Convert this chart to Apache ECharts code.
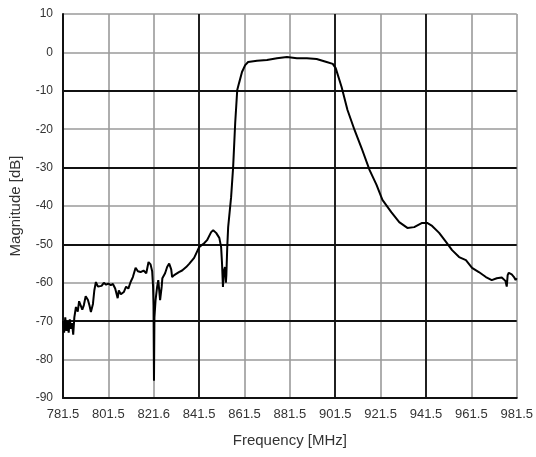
<!DOCTYPE html>
<html>
<head>
<meta charset="utf-8">
<script src="https://cdn.jsdelivr.net/npm/echarts@6/dist/echarts.min.js"></script>
<style>
html,body{margin:0;padding:0;background:#fff;}
#chart{width:536px;height:457px;}
</style>
</head>
<body>
<div id="chart"></div>
<script>
const xTickLabels = ['781.5','801.5','821.6','841.5','861.5','881.5','901.5','921.5','941.5','961.5','981.5'];

const freq = [
  781.5, 782.0, 782.5, 783.0, 783.5, 784.0, 784.5, 785.0, 785.5, 786.0, 786.5,
  787.2, 788.0, 788.6, 789.4, 790.0, 790.7, 791.5, 792.5, 793.2, 793.8, 794.7,
  795.3, 796.0, 796.9, 797.5, 798.5, 799.5, 800.5, 801.5, 802.6, 803.5, 804.5,
  805.6, 806.1, 807.0, 808.3, 809.3, 810.3, 811.3, 812.3, 813.5, 814.5, 815.7,
  817.0, 818.2, 819.2, 820.1, 820.8, 821.2, 821.4, 821.6, 821.8, 822.3, 823.0,
  823.5, 824.3, 825.0, 825.3, 826.5, 827.4, 828.3, 829.2, 829.6, 830.5, 831.3,
  832.6, 834.0, 835.8, 837.2, 839.3, 841.5, 843.7, 845.0, 846.8, 847.7, 849.0,
  849.5, 850.4, 851.2, 851.6, 852.0, 852.4, 852.9, 853.3, 853.5, 853.9, 854.3,
  855.6, 856.5, 857.4, 858.3, 859.1, 860.4, 861.8, 863.1, 867.0, 871.4, 875.8,
  880.2, 884.6, 889.0, 893.3, 897.7, 900.4, 901.7, 904.3, 906.9, 910.0, 913.1,
  916.6, 919.7, 922.3, 926.2, 929.7, 933.3, 936.3, 939.8, 942.0, 944.2, 947.3,
  950.4, 953.0, 956.1, 959.1, 961.8, 964.8, 967.9, 970.5, 972.7, 974.9, 976.5,
  977.1, 977.5, 978.0, 979.3, 980.3, 981.0, 981.5
];

const magnitude = [
  -70, -73, -69, -72.5, -70, -73, -69.5, -72, -70.5, -73.5, -69,
  -66.3, -67.5, -64.8, -65, -67, -65.8, -63.5, -64.5, -66, -67.6, -65.5,
  -62, -59.8, -61, -60.5, -60.8, -60, -60.5, -60.2, -60.6, -60.3, -61.5,
  -64, -62, -63, -62.4, -61, -61.5, -59.8, -58.5, -56.1, -57, -57.2,
  -56.8, -57.5, -54.6, -55.2, -57, -61, -66, -85.5, -69, -64.5, -61,
  -59.3, -64.5, -61, -58.8, -57.5, -55.9, -55, -56.5, -58.5, -58, -57.5,
  -57.2, -56.8, -55.9, -55, -53.5, -50.7, -49.7, -48.9, -46.8, -46.3, -47,
  -46.5, -48.3, -50.7, -55, -61.1, -57, -55.9, -60, -58, -50.7, -45.5,
  -37.7, -29.8, -18.4, -9.8, -8, -5.1, -3.3, -2.5, -2.2, -2.0, -1.5,
  -1.2, -1.5, -1.5, -1.7, -2.5, -3.0, -4.1, -9, -15, -20.2, -24.9,
  -30.6, -34.5, -38.4, -41.6, -44.2, -45.7, -45.5, -44.4, -44.4, -45.2, -47,
  -49.4, -51.5, -53.3, -54.1, -56.1, -57.2, -58.5, -59.3, -58.8, -58.6, -59.5,
  -61, -58, -57.4, -57.8, -58.5, -59.3, -58.8
];

// grid lines that are drawn darker in the original
const darkGridX = [841.5, 901.5, 941.5];
const darkGridY = [-10, -30, -50, -70];

const seriesData = freq.map((f, i) => [f, magnitude[i]]);

const DARK = '#111';
const LIGHT = '#9a9a9a';

const darkLines = darkGridX.map(v => ({xAxis: v})).concat(darkGridY.map(v => ({yAxis: v})));

const chart = echarts.init(document.getElementById('chart'), null, {renderer: 'canvas'});
chart.setOption({
  animation: false,
  backgroundColor: '#fff',
  grid: {left: 62, right: 18, top: 14, bottom: 59, containLabel: false},
  xAxis: {
    type: 'value',
    min: 781.5, max: 981.5, interval: 20,
    name: 'Frequency [MHz]',
    nameLocation: 'middle',
    nameGap: 35,
    nameTextStyle: {fontFamily: 'Liberation Sans', fontSize: 15, color: '#333'},
    axisLine: {show: true, onZero: false, lineStyle: {color: DARK, width: 2}},
    axisTick: {show: false},
    axisLabel: {
      fontFamily: 'Liberation Sans', fontSize: 13, color: '#333', margin: 10,
      formatter: v => xTickLabels[Math.round((v - 781.5) / 20)]
    },
    splitLine: {show: true, lineStyle: {color: LIGHT, width: 1.6}}
  },
  yAxis: {
    type: 'value',
    min: -90, max: 10, interval: 10,
    name: 'Magnitude [dB]',
    nameLocation: 'middle',
    nameGap: 40,
    nameRotate: 90,
    nameTextStyle: {fontFamily: 'Liberation Sans', fontSize: 15, color: '#333'},
    axisLine: {show: true, onZero: false, lineStyle: {color: DARK, width: 2}},
    axisTick: {show: false},
    axisLabel: {fontFamily: 'Liberation Sans', fontSize: 12, color: '#333', margin: 10},
    splitLine: {show: true, lineStyle: {color: LIGHT, width: 1.6}}
  },
  series: [{
    type: 'line',
    data: seriesData,
    showSymbol: false,
    symbol: 'none',
    lineStyle: {color: '#000', width: 2},
    z: 5,
    markLine: {
      silent: true,
      symbol: ['none', 'none'],
      label: {show: false},
      animation: false,
      lineStyle: {color: DARK, width: 1.8, type: 'solid'},
      emphasis: {disabled: true},
      data: darkLines
    }
  }]
});
</script>
</body>
</html>
